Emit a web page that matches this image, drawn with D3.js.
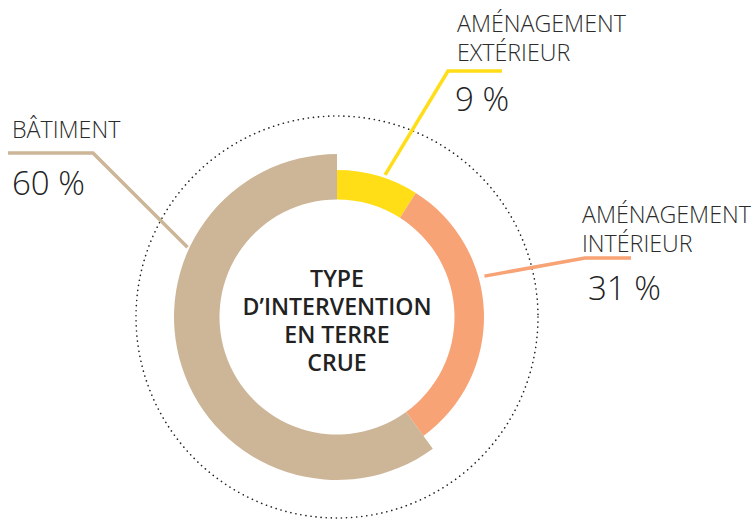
<!DOCTYPE html>
<html>
<head>
<meta charset="utf-8">
<script src="https://cdn.jsdelivr.net/npm/d3@7"></script>
<style>
  html, body { margin: 0; padding: 0; background: #fff; }
  svg { display: block; }
</style>
</head>
<body>
<svg id="chart" width="755" height="521"></svg>
<script>
// ---- data ----
const categories = ["AMÉNAGEMENT EXTÉRIEUR", "AMÉNAGEMENT INTÉRIEUR", "BÂTIMENT"];
const labelLines = [["AMÉNAGEMENT", "EXTÉRIEUR"], ["AMÉNAGEMENT", "INTÉRIEUR"], ["BÂTIMENT"]];
const values = [9, 31, 60];
const colors = ["#FFDE17", "#F7A375", "#CDB698"];
const centerTitle = ["TYPE", "D’INTERVENTION", "EN TERRE", "CRUE"];

// ---- layout ----
const cx = 337, cy = 317;
const innerR = 117.5;
const outerR = 147;
const outerRBig = 163;
const dottedR = 201;
const FONT = "'Open Sans', 'Noto Sans', sans-serif";

// leader line layout per slice: start angle (deg), start radius, elbow, end, label first baseline, pct baseline
const leaders = [
  { a: 18.7, r: 150, elbow: [448, 71], end: [502, 71], label: [457, 32], pct: [455, 111], lh: 29 },
  { a: 74.5, r: 153, elbow: [585, 258], end: [631, 258], label: [582, 223], pct: [588, 300], lh: 29 },
  { a: 295, r: 165, elbow: [93, 153], end: [8, 153], label: [12, 138], pct: [12, 195], lh: 29 }
];

const svg = d3.select("#chart");
const g = svg.append("g").attr("transform", `translate(${cx},${cy})`);

// fit a font size so that a sample text reaches a target width
function fitSize(text, weight, target) {
  const probe = svg.append("text")
    .attr("font-family", FONT).attr("font-weight", weight)
    .attr("font-size", 100).text(text);
  const w = probe.node().getComputedTextLength();
  probe.remove();
  return 100 * target / w;
}
const labelSize = fitSize("AMÉNAGEMENT", 300, 169);
const pctSize = fitSize("60 %", 300, 73);
const titleSize = fitSize("D’INTERVENTION", 600, 189);

const maxV = d3.max(values);
const pie = d3.pie().sort(null).value(d => d);
const arcs = pie(values);

// dotted circle
g.append("circle")
  .attr("r", dottedR)
  .attr("fill", "none")
  .attr("stroke", "#222")
  .attr("stroke-width", 1.6)
  .attr("stroke-linecap", "round")
  .attr("stroke-dasharray", "0.1 5");

const arcGen = d3.arc()
  .innerRadius(innerR)
  .outerRadius(d => d.value === maxV ? outerRBig : outerR);

g.selectAll("path.slice")
  .data(arcs)
  .join("path")
  .attr("class", "slice")
  .attr("d", arcGen)
  .attr("fill", (d, i) => colors[i]);

// leader lines and labels
arcs.forEach((d, i) => {
  const L = leaders[i];
  const ang = L.a * Math.PI / 180;
  const sx = cx + L.r * Math.sin(ang);
  const sy = cy - L.r * Math.cos(ang);
  svg.append("polyline")
    .attr("points", [[sx, sy], L.elbow, L.end].map(p => p.join(",")).join(" "))
    .attr("fill", "none")
    .attr("stroke", colors[i])
    .attr("stroke-width", 3.5)
    .attr("stroke-linejoin", "miter");

  const t = svg.append("text")
    .attr("x", L.label[0])
    .attr("y", L.label[1])
    .attr("font-family", FONT)
    .attr("font-weight", 300)
    .attr("font-size", labelSize)
    .attr("fill", "#2b2b2b");
  labelLines[i].forEach((line, k) => {
    t.append("tspan")
      .attr("x", L.label[0])
      .attr("dy", k === 0 ? 0 : L.lh)
      .text(line);
  });

  svg.append("text")
    .attr("x", L.pct[0])
    .attr("y", L.pct[1])
    .attr("font-family", FONT)
    .attr("font-weight", 300)
    .attr("font-size", pctSize)
    .attr("fill", "#222")
    .text(d.value + " %");
});

// center title
const ct = g.append("text")
  .attr("text-anchor", "middle")
  .attr("font-family", FONT)
  .attr("font-weight", 600)
  .attr("font-size", titleSize)
  .attr("fill", "#222");
centerTitle.forEach((line, k) => {
  ct.append("tspan")
    .attr("x", 0)
    .attr("y", 287 - cy + k * 28)
    .text(line);
});
</script>
</body>
</html>
